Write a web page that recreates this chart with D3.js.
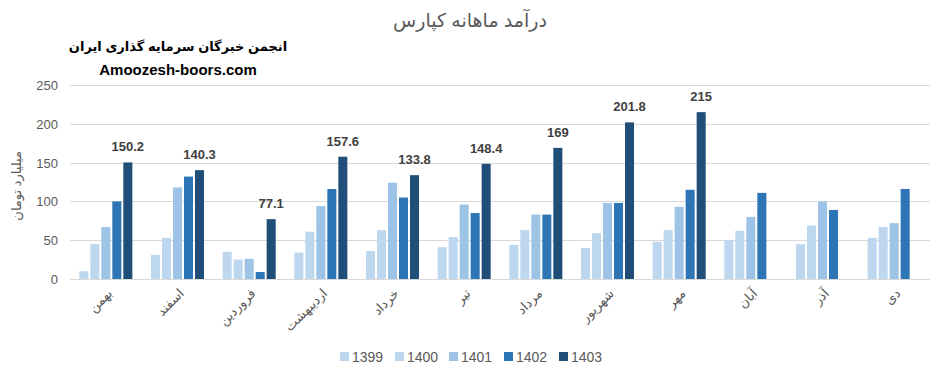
<!DOCTYPE html>
<html>
<head>
<meta charset="utf-8">
<script src="https://cdn.jsdelivr.net/npm/d3@7"></script>
<style>
  body { margin: 0; background: #fff; }
  svg { display: block; font-family: 'Liberation Sans', 'DejaVu Sans', sans-serif; }
</style>
</head>
<body>
<div id="chart"></div>
<script>
// months in order shown on the x axis
const months = ['بهمن', 'اسفند', 'فروردین', 'اردیبهشت', 'خرداد', 'تیر', 'مرداد', 'شهریور', 'مهر', 'آبان', 'آذر', 'دی'];
const years = ['1399', '1400', '1401', '1402', '1403'];

// values in billion toman, one array per year (null = no bar)
const v1399 = [10, 31, 35, 34, 36, 41, 44, 40, 48, 50, 45, 53];
const v1400 = [45, 53, 25, 61, 63, 54, 63, 59, 63, 62, 69, 67];
const v1401 = [67, 118, 26, 94, 124, 96, 83, 98, 93, 80, 100, 72];
const v1402 = [100, 132, 9, 116, 105, 85, 83, 98, 115, 111, 89, 116];
const v1403 = [150.2, 140.3, 77.1, 157.6, 133.8, 148.4, 169, 201.8, 215, null, null, null];

const yTicks = [0, 50, 100, 150, 200, 250];
const colors = ['#bdd7ee', '#bdd7ee', '#9dc3e6', '#2e75b6', '#1f4e79'];

const seriesVals = [v1399, v1400, v1401, v1402, v1403];

const W = 941, H = 378;
const margin = { top: 85, right: 11, bottom: 99, left: 70 };

const svg = d3.select('#chart').append('svg').attr('width', W).attr('height', H);

const x0 = d3.scaleBand().domain(months).range([margin.left, W - margin.right]).padding(0);
const bw = x0.bandwidth();
const x1 = d3.scaleBand().domain(years).range([bw * 0.13, bw * 0.87]).paddingInner(0.18);
const y = d3.scaleLinear().domain([0, 250]).range([H - margin.bottom, margin.top]);

// grid
svg.append('g').selectAll('line').data(yTicks).enter().append('line')
  .attr('x1', margin.left).attr('x2', W - margin.right)
  .attr('y1', d => Math.round(y(d)) + 0.5).attr('y2', d => Math.round(y(d)) + 0.5)
  .attr('stroke', '#d9d9d9').attr('stroke-width', 1);

// y axis labels
svg.append('g').selectAll('text').data(yTicks).enter().append('text')
  .attr('x', 58).attr('y', d => y(d) + 5).attr('text-anchor', 'end')
  .text(d => d).style('font-size', '13px').style('fill', '#595959');

svg.append('text')
  .attr('transform', `translate(21, ${y(120)}) rotate(-90)`)
  .attr('text-anchor', 'middle')
  .text('میلیارد تومان').style('font-size', '13px').style('fill', '#595959');

// bars
const rows = [];
years.forEach((yr, i) => {
  months.forEach((m, j) => {
    if (seriesVals[i][j] != null) rows.push({ year: yr, month: m, value: seriesVals[i][j], idx: i });
  });
});

svg.append('g').selectAll('rect').data(rows).enter().append('rect')
  .attr('x', d => x0(d.month) + x1(d.year))
  .attr('y', d => y(d.value))
  .attr('width', x1.bandwidth())
  .attr('height', d => y(0) - y(d.value))
  .attr('fill', d => colors[d.idx]);

// data labels on 1403
svg.append('g').selectAll('text').data(rows.filter(d => d.year === '1403')).enter().append('text')
  .attr('x', d => x0(d.month) + x1(d.year) + x1.bandwidth() / 2)
  .attr('y', d => y(d.value) - 11)
  .attr('text-anchor', 'middle')
  .text(d => d.value)
  .style('font-size', '13px').style('font-weight', 'bold').style('fill', '#404040');

// x labels
svg.append('g').selectAll('text').data(months).enter().append('text')
  .attr('transform', d => `translate(${x0(d) + bw / 2 + 4}, 291) rotate(-45)`)
  .attr('text-anchor', 'end')
  .attr('dy', '0.35em')
  .text(d => d)
  .style('font-size', '13px').style('fill', '#595959');

// title
svg.append('text').attr('x', 470).attr('y', 27).attr('text-anchor', 'middle')
  .text('درآمد ماهانه کپارس').style('font-size', '19px').style('fill', '#595959');

svg.append('text').attr('x', 178).attr('y', 51).attr('text-anchor', 'middle')
  .text('انجمن خبرگان سرمایه گذاری ایران').style('font-size', '13px').style('font-weight', 'bold').style('fill', '#000');
svg.append('text').attr('x', 178).attr('y', 75).attr('text-anchor', 'middle')
  .text('Amoozesh-boors.com').style('font-size', '15px').style('font-weight', 'bold').style('fill', '#000');

// legend
const legendX = [340, 395, 449, 504, 559];
const lg = svg.append('g').selectAll('g').data(years).enter().append('g')
  .attr('transform', (d, i) => `translate(${legendX[i]}, 352)`);
lg.append('rect').attr('width', 9).attr('height', 9).attr('fill', (d, i) => colors[i]);
lg.append('text').attr('x', 12).attr('y', 10).text(d => d)
  .style('font-size', '14px').style('fill', '#595959');
</script>
</body>
</html>
